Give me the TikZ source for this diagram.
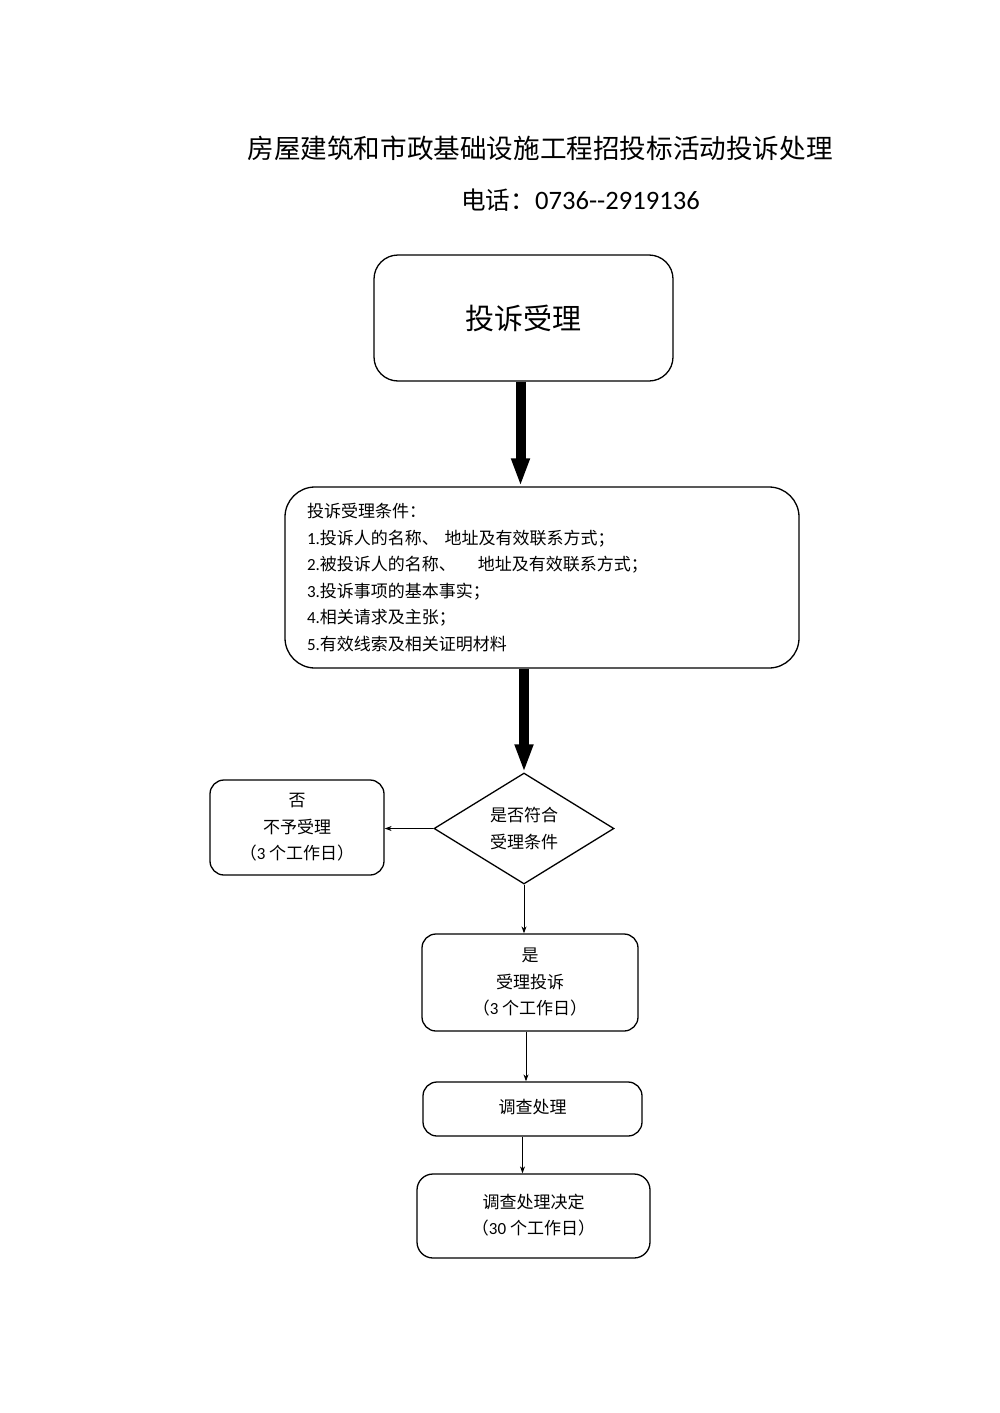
\documentclass[tikz,border=0pt]{standalone}
\usepackage{fontspec}
\setmainfont{Noto Sans CJK SC}
\newfontfamily\lat{Carlito}
\usetikzlibrary{arrows.meta,shapes.geometric}
\begin{document}
\begin{tikzpicture}[x=1pt,y=-1pt,
  box/.style={draw,line width=1.3pt,rounded corners=14pt,inner sep=0pt,align=center,font=\fontsize{17}{26.5}\selectfont},
  thickarrow/.style={line width=10pt,-{Triangle[width=17pt,length=28pt]}},
  thinarrow/.style={line width=1pt,-{Stealth[length=7pt,width=5pt]}}]
\useasboundingbox (0,0) rectangle (1000,1413);
\fill[white] (0,0) rectangle (1000,1413);

\node[font=\fontsize{26.6}{30}\selectfont] (title) at (540,148) {房屋建筑和市政基础设施工程招投标活动投诉处理};
\node[font=\fontsize{24.6}{28}\selectfont] (tel) at (580.5,200) {电话：{\fontsize{26.6}{28}\selectfont\lat 0736-{}-2919136}};

\node[box,minimum width=299pt,minimum height=126pt,rounded corners=24pt,font=\fontsize{29}{35}\selectfont] (b1) at (523.5,318) {投诉受理};

\node[box,minimum width=514pt,minimum height=181pt,rounded corners=30pt,align=left,text width=470pt,inner xsep=22pt] (b2) at (542,577.5)
{投诉受理条件：\\
{\lat 1.}投诉人的名称、 地址及有效联系方式；\\
{\lat 2.}被投诉人的名称、\hspace{22pt}地址及有效联系方式；\\
{\lat 3.}投诉事项的基本事实；\\
{\lat 4.}相关请求及主张；\\
{\lat 5.}有效线索及相关证明材料};

\node[draw,diamond,line width=1.3pt,minimum width=180pt,minimum height=111pt,inner sep=0pt,aspect=1.6,align=center,font=\fontsize{17}{26.5}\selectfont] (d) at (524,828.5) {是否符合\\受理条件};

\node[box,minimum width=174pt,minimum height=95pt] (no) at (297,827.5) {否\\不予受理\\（{\lat 3} 个工作日）};
\node[box,minimum width=216pt,minimum height=97pt] (yes) at (530,982.5) {是\\受理投诉\\（{\lat 3} 个工作日）};
\node[box,minimum width=219pt,minimum height=54pt] (proc) at (532.5,1109) {\raisebox{6pt}{调查处理}};
\node[box,minimum width=233pt,minimum height=84pt,rounded corners=16pt] (final) at (533.5,1216)
  {\raisebox{14pt}{\begin{tabular}{@{}c@{}}调查处理决定\\（{\lat 30} 个工作日）\end{tabular}}};

\draw[thickarrow] ([xshift=-3pt]b1.south) -- ([xshift=-3pt]b1.south |- b2.north);
\draw[thickarrow] (d.north |- b2.south) -- (d.north);
\draw[thinarrow] (d.west) -- (d.west -| no.east);
\draw[thinarrow] (d.south) -- (d.south |- yes.north);
\draw[thinarrow] ([xshift=-4pt]yes.south) -- ([xshift=-4pt]yes.south |- proc.north);
\draw[thinarrow] ([xshift=-10pt]proc.south) -- ([xshift=-10pt]proc.south |- final.north);
\end{tikzpicture}
\end{document}
